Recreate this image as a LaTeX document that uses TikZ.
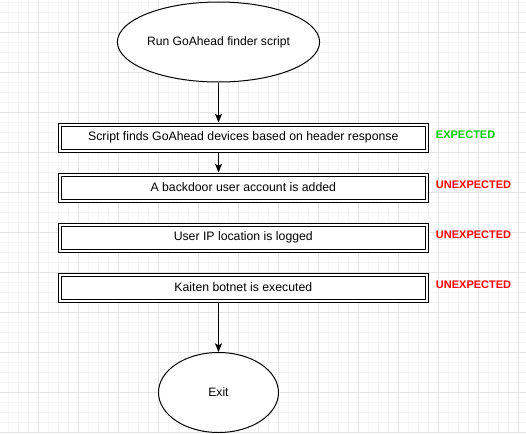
\documentclass[tikz,border=0pt]{standalone}
\usepackage{fontspec}
\setmainfont{Liberation Sans}
\usetikzlibrary{arrows.meta,shapes.geometric}
\definecolor{okgreen}{RGB}{0,204,0}
\definecolor{badred}{RGB}{255,0,0}
\begin{document}
\begin{tikzpicture}[x=0.75pt,y=-0.75pt,
  minorgrid/.style={draw=black!4, line width=0.75pt},
  majorgrid/.style={draw=black!11, line width=0.75pt},
  term/.style={ellipse, draw, line width=0.75pt, fill=white, inner sep=0pt,
    font=\fontsize{9.1}{11}\selectfont},
  stepbox/.style={rectangle, draw, double, double distance=1.5pt, line width=0.75pt,
    fill=white, minimum width=274.9pt, minimum height=19.5pt, inner sep=0pt, outer sep=1.5pt,
    font=\fontsize{9.2}{11}\selectfont},
  arr/.style={line width=0.75pt, -{Stealth[length=6.5pt,width=5.25pt,inset=1.5pt]}},
  verdict/.style={anchor=west, inner sep=0pt, font=\bfseries\fontsize{8.25}{10}\selectfont}
]
\useasboundingbox (0,0) rectangle (526,433);
\fill[white] (0,0) rectangle (526,433);
% grid
\foreach \x in {8.5,18.5,...,526} \draw[minorgrid] (\x,0) -- (\x,433);
\foreach \y in {2.5,12.5,...,433} \draw[minorgrid] (0,\y) -- (526,\y);
\foreach \x in {38.5,78.5,...,526} \draw[majorgrid] (\x,0) -- (\x,433);
\foreach \y in {32.5,72.5,...,433} \draw[majorgrid] (0,\y) -- (526,\y);

% nodes
\node[term, minimum width=150pt, minimum height=60pt] (start) at (218.5,42) {Run GoAhead finder script};
\node[stepbox] (b1) at (243.3,137.5) {Script finds GoAhead devices based on header response};
\node[stepbox] (b2) at (243.3,187.5) {A backdoor user account is added};
\node[stepbox] (b3) at (243.3,237.5) {User IP location is logged};
\node[stepbox] (b4) at (243.3,287.5) {Kaiten botnet is executed};
\node[term, minimum width=90pt, minimum height=60pt] (exit) at (218.5,392.5) {Exit};

% verdict labels
\node[verdict, text=okgreen] (v1) at (435.7,134.8) {EXPECTED};
\node[verdict, text=badred] (v2) at (435.7,184.5) {UNEXPECTED};
\node[verdict, text=badred] (v3) at (435.7,234.8) {UNEXPECTED};
\node[verdict, text=badred] (v4) at (435.7,284.8) {UNEXPECTED};

% connectors
\draw[arr] (start) -- (start |- b1.north);
\draw[arr] (start |- b1.south) -- (start |- b2.north);
\draw[arr] (start |- b4.south) -- (exit);
\end{tikzpicture}
\end{document}
